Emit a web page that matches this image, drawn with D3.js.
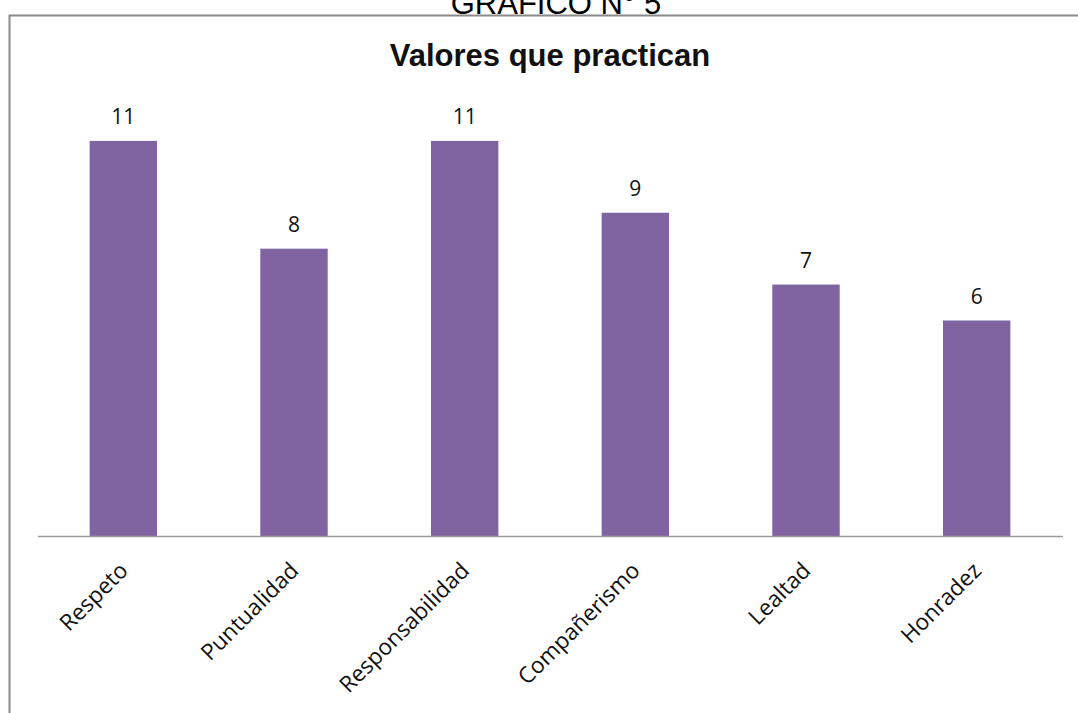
<!DOCTYPE html>
<html>
<head>
<meta charset="utf-8">
<script src="https://cdn.jsdelivr.net/npm/d3@7"></script>
<style>
  html, body { margin: 0; padding: 0; background: #fff; }
  svg { display: block; }
</style>
</head>
<body>
<svg id="chart" width="1078" height="713"></svg>
<script>
// Values practiced, by category
const categories = ["Respeto", "Puntualidad", "Responsabilidad", "Compañerismo", "Lealtad", "Honradez"];
const values = [11, 8, 11, 9, 7, 6];
const chartTitle = "Valores que practican";
const figureCaption = "GRAFICO N° 5";

const svg = d3.select("#chart");
const W = 1078, H = 713;

// Plot area
const left = 38, right = 1062, baseY = 536, topY = 105;

// Figure caption above the frame
svg.append("text")
  .attr("x", 556).attr("y", 14)
  .attr("text-anchor", "middle")
  .attr("font-family", "Liberation Sans, Arial, sans-serif")
  .attr("font-size", 31)
  .attr("fill", "#000")
  .text(figureCaption);

// Chart frame
svg.append("rect")
  .attr("x", 9.5).attr("y", 15.5)
  .attr("width", W + 20).attr("height", H + 20)
  .attr("fill", "#fff")
  .attr("stroke", "#8a8a8a")
  .attr("stroke-width", 2);

// Title
svg.append("text")
  .attr("x", 550).attr("y", 66)
  .attr("text-anchor", "middle")
  .attr("font-family", "Liberation Sans, Arial, sans-serif")
  .attr("font-weight", "bold")
  .attr("font-size", 31)
  .attr("fill", "#111")
  .text(chartTitle);

const x = d3.scaleBand()
  .domain(categories)
  .range([left, right])
  .paddingInner(0.605)
  .paddingOuter(0.3025);

const y = d3.scaleLinear()
  .domain([0, 12])
  .range([baseY, topY]);

// Bars
svg.append("g").selectAll("rect")
  .data(categories)
  .join("rect")
  .attr("x", d => x(d))
  .attr("y", (d, i) => y(values[i]))
  .attr("width", x.bandwidth())
  .attr("height", (d, i) => y(0) - y(values[i]))
  .attr("fill", "#8064a2");

// Value labels
svg.append("g").selectAll("text")
  .data(categories)
  .join("text")
  .attr("x", d => x(d) + x.bandwidth() / 2)
  .attr("y", (d, i) => y(values[i]) - 17)
  .attr("text-anchor", "middle")
  .attr("font-family", "Open Sans, sans-serif")
  .attr("font-size", 21)
  .attr("fill", "#111")
  .text((d, i) => values[i]);

// Category axis
const axis = svg.append("g")
  .attr("transform", `translate(0,${baseY})`)
  .call(d3.axisBottom(x).tickSize(0).tickPadding(0));
axis.select(".domain")
  .attr("d", `M${left},0.5H${right + 1}`)
  .attr("stroke", "#9a9a9a")
  .attr("stroke-width", 1.5);
axis.selectAll(".tick text")
  .attr("font-family", "Open Sans, sans-serif")
  .attr("font-size", 22.5)
  .attr("fill", "#111")
  .attr("text-anchor", "end")
  .attr("dy", 0)
  .attr("transform", "translate(6,36) rotate(-45)");
</script>
</body>
</html>
